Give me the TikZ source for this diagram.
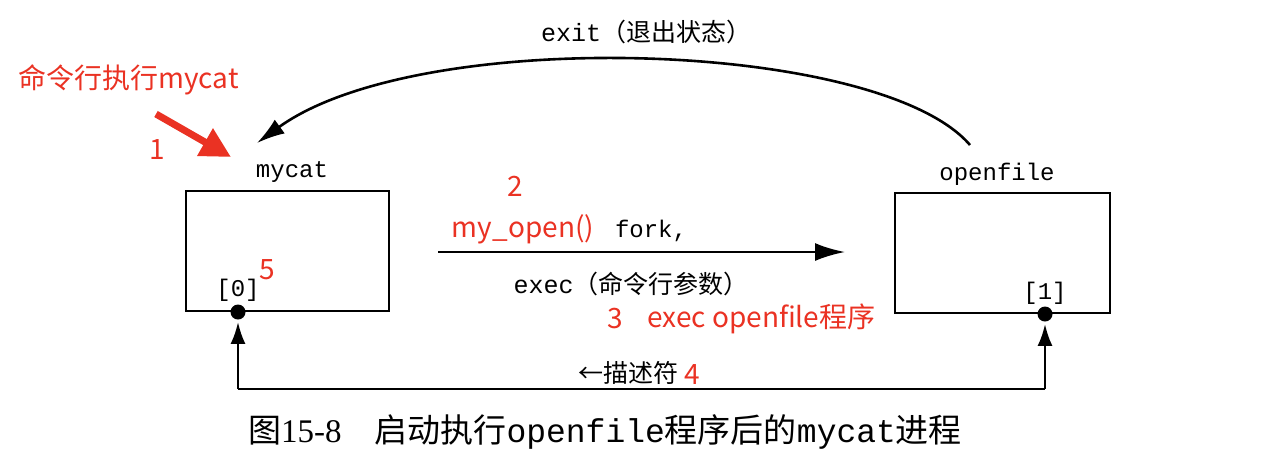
\documentclass[tikz,border=0pt]{standalone}
\usepackage{fontspec}
\setmainfont{Liberation Serif}
\setmonofont{Liberation Mono}
\newfontfamily\cjk{Noto Sans CJK SC}
\usetikzlibrary{arrows.meta}
\definecolor{redc}{RGB}{234,50,35}
\begin{document}
\begin{tikzpicture}[x=0.5pt,y=-0.5pt,
  mono/.style={inner sep=0pt,font=\fontsize{12pt}{14pt}\selectfont\ttfamily},
  blk/.style={inner sep=0pt,font=\fontsize{12.5pt}{14pt}\selectfont\cjk},
  rtxt/.style={inner sep=0pt,text=redc,font=\fontsize{14pt}{16pt}\selectfont\cjk},
  procbox/.style={draw,line width=1.1pt,inner sep=0pt,minimum height=60pt},
  dotn/.style={circle,fill=black,inner sep=0pt,minimum size=7.5pt},
  conn/.style={line width=1.3pt},
  uparr/.style={conn,-{Latex[length=11pt,width=7.5pt]},shorten >=1pt}
]
\useasboundingbox (0,0) rectangle (1284,468);
% boxes
\node[procbox,minimum width=101.5pt] (mycat) at (287.5,251) {};
\node[procbox,minimum width=107.5pt] (openfile) at (1002.5,253) {};
\node[mono] (mycatlbl) at (292,172) {mycat};
\node[mono] (openlbl) at (997,174) {openfile};
\node[mono] (fd0) at (238,290) {[0]};
\node[mono] (fd1) at (1045,293) {[1]};
% exit curve
\node[blk] (exitlbl) at (646,32) {{\ttfamily exit}（退出状态）};
\coordinate (c0) at (970,145);
\coordinate (c1) at (257,143);
\draw[conn,-{Latex[length=14pt,width=8.5pt]}] (c0) .. controls (880,40) and (420,25) .. (c1);
% fork arrow
\coordinate (h0) at (438,252);
\coordinate (h1) at (845,252);
\draw[conn,-{Latex[length=15pt,width=9pt]}] (h0) -- (h1);
\node[mono] (forklbl) at (651,231) {fork,};
\node[blk] (execlbl) at (631,284) {{\ttfamily exec}（命令行参数）};
% descriptor
\node[dotn] (d0) at (238,312) {};
\node[dotn] (d1) at (1045,314) {};
\coordinate (b0) at (238,389);
\coordinate (b1) at (1045,389);
\draw[conn] (b0) -- (b1);
\draw[uparr] (b0) -- (d0);
\draw[uparr] (b1) -- (d1);
\node[blk] (desc) at (628,373) {←描述符};
% caption
\node[inner sep=0pt,font=\fontsize{16.5pt}{18pt}\selectfont] (cap) at (605,432)
  {{\cjk 图}15-8\hspace{1em}{\cjk 启动执行}{\ttfamily openfile}{\cjk 程序后的}{\ttfamily mycat}{\cjk 进程}};
% red annotations
\node[rtxt,anchor=west] (r0) at (18,80) {命令行执行mycat};
\coordinate (ra0) at (156,114);
\coordinate (ra1) at (231,157);
\draw[redc,line width=3.5pt,-{Triangle[length=15pt,width=15pt]}] (ra0) -- (ra1);
\node[rtxt] (r1) at (157,150) {1};
\node[rtxt] (r2) at (515,186) {2};
\node[rtxt] (r2b) at (523,229) {my\_open()};
\node[rtxt] (r5) at (267,270) {5};
\node[rtxt] (r3) at (615,319) {3};
\node[rtxt,anchor=west] (r3b) at (647,319) {exec openfile程序};
\node[rtxt] (r4) at (692,375) {4};
\end{tikzpicture}
\end{document}
